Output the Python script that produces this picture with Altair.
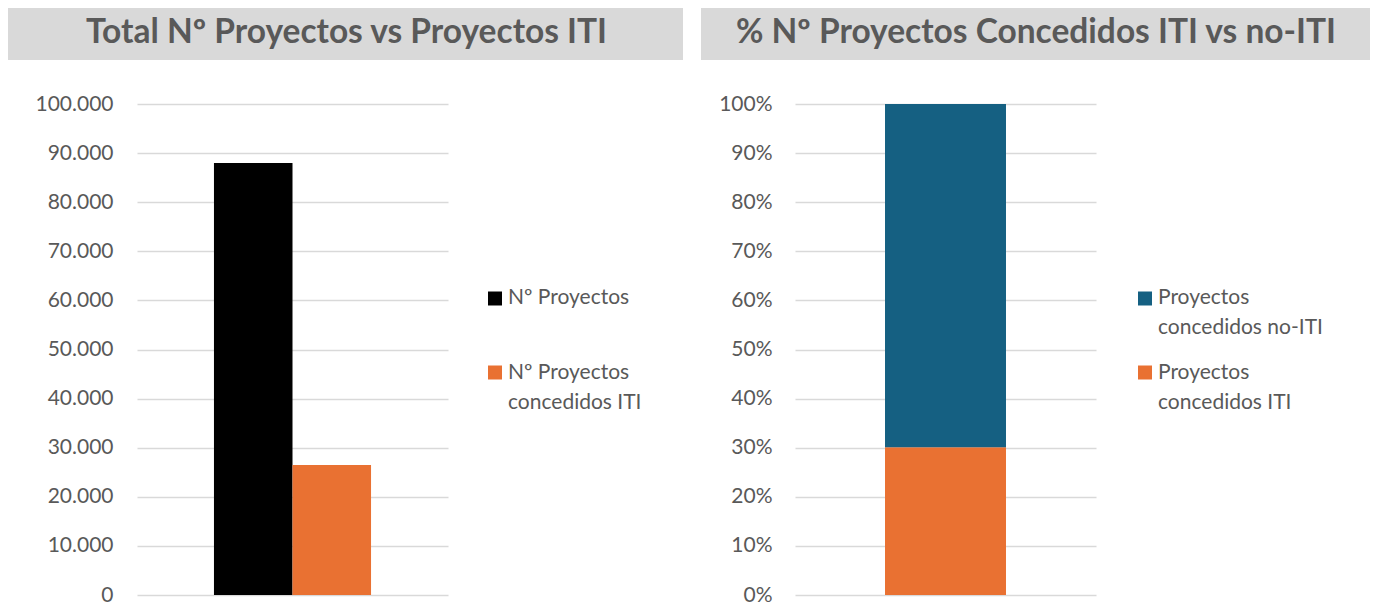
import altair as alt
import pandas as pd

# ---------------- data ----------------
left_title = "Total Nº Proyectos vs Proyectos ITI"
left_series = ["Nº Proyectos", "Nº Proyectos concedidos ITI"]
left_values = [88000, 26500]
left_colors = ["#000000", "#E97132"]
left_legend = ["Nº Proyectos", "Nº Proyectos\nconcedidos ITI"]
left_ticks = [0, 10000, 20000, 30000, 40000, 50000, 60000, 70000, 80000, 90000, 100000]

right_title = "% Nº Proyectos Concedidos ITI vs no-ITI"
right_series = ["Proyectos concedidos ITI", "Proyectos concedidos no-ITI"]
right_values = [26500, 61500]
right_order = [0, 1]
right_colors = ["#E97132", "#156082"]
right_legend = ["Proyectos\nconcedidos no-ITI", "Proyectos\nconcedidos ITI"]
right_legend_colors = ["#156082", "#E97132"]
right_ticks = [0, 0.1, 0.2, 0.3, 0.4, 0.5, 0.6, 0.7, 0.8, 0.9, 1.0]

FONT = "Lato"
GRAY = "#595959"
BAND = "#D9D9D9"
H = 491
W1 = 311
W2 = 301


def axis_y(**kw):
    return alt.Axis(domain=False, ticks=False, tickSize=0, grid=True,
                    gridColor="#D9D9D9", gridWidth=1.5, labelFont=FONT,
                    labelFontSize=21, labelColor=GRAY, title=None, **kw)


def title_layers(text, x1, x2, xc):
    band = alt.Chart(pd.DataFrame({"t": [text]})).mark_rect(color=BAND).encode(
        x=alt.value(x1), x2=alt.value(x2), y=alt.value(-96), y2=alt.value(-44))
    txt = alt.Chart(pd.DataFrame({"t": [text]})).mark_text(
        font=FONT, fontSize=33.5, fontWeight="bold", color=GRAY,
        align="center", baseline="middle").encode(
        text="t:N", x=alt.value(xc), y=alt.value(-71))
    return [band, txt]


def legend_layers(labels, colors, sq_x, sq_ys, tx, t_ys):
    out = []
    for lab, col, sy, ty in zip(labels, colors, sq_ys, t_ys):
        d = pd.DataFrame({"t": [lab]})
        out.append(alt.Chart(d).mark_square(size=196, color=col, opacity=1).encode(
            x=alt.value(sq_x), y=alt.value(sy)))
        out.append(alt.Chart(d).mark_text(
            font=FONT, fontSize=21, color=GRAY, align="left", baseline="middle",
            lineBreak="\n", lineHeight=30).encode(
            text="t:N", x=alt.value(tx), y=alt.value(ty)))
    return out


# ---------------- left panel ----------------
ldf = pd.DataFrame({"serie": left_series, "valor": left_values})
bars1 = alt.Chart(ldf).mark_bar().encode(
    x=alt.X("serie:N", sort=left_series, axis=None,
            scale=alt.Scale(paddingInner=0, paddingOuter=0.98)),
    y=alt.Y("valor:Q", scale=alt.Scale(domain=[0, 100000], nice=False),
            axis=axis_y(values=left_ticks, labelPadding=24,
                        labelExpr="replace(format(datum.value, ','), ',', '.')")),
    color=alt.Color("serie:N", scale=alt.Scale(domain=left_series, range=left_colors),
                    legend=None),
)
left = alt.layer(
    *title_layers(left_title, -129, 546, 209.5),
    bars1,
    *legend_layers(left_legend, left_colors, 358, [194.5, 268.5], 371, [194, 269]),
).properties(width=W1, height=H)

# ---------------- right panel ----------------
rdf = pd.DataFrame({"cat": ["total", "total"], "serie": right_series,
                    "valor": right_values, "orden": right_order})
bars2 = alt.Chart(rdf).mark_bar().encode(
    x=alt.X("cat:N", axis=None, scale=alt.Scale(paddingInner=0, paddingOuter=0.744)),
    y=alt.Y("valor:Q", stack="normalize",
            scale=alt.Scale(domain=[0, 1], nice=False),
            axis=axis_y(values=right_ticks, format=".0%", labelPadding=23)),
    color=alt.Color("serie:N", scale=alt.Scale(domain=right_series, range=right_colors),
                    legend=None),
    order=alt.Order("orden:Q"),
)
right = alt.layer(
    *title_layers(right_title, -94, 575, 241),
    bars2,
    *legend_layers(right_legend, right_legend_colors, 350, [194.5, 268.5], 363, [194, 269]),
).properties(width=W2, height=H)

chart = alt.hconcat(left, right, spacing=18).resolve_scale(
    x="independent", y="independent", color="independent"
).configure_view(stroke=None).properties(padding=0, background="white")

chart.save("out.html", embed_options={"renderer": "svg", "actions": False})
